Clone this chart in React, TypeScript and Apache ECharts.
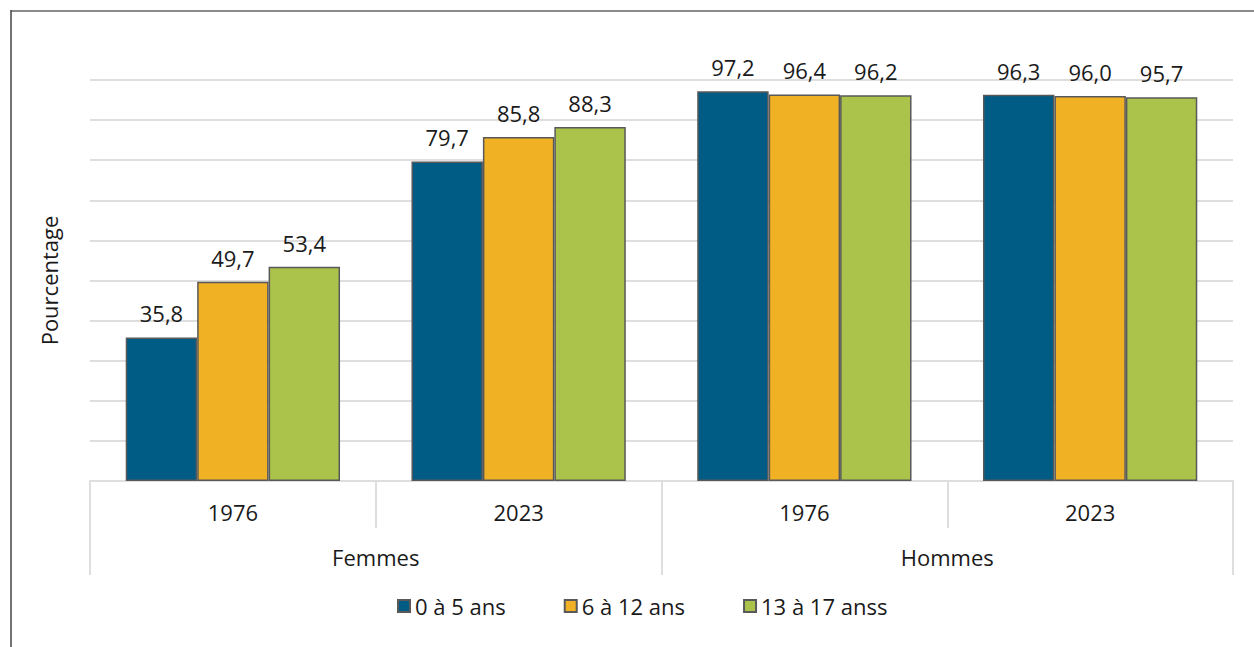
import React, { useEffect, useRef } from "react";
import * as echarts from "echarts";

const yearCategories = ["1976", "2023", "1976", "2023"];
const sexGroups = ["Femmes", "Hommes"];
const seriesNames = ["0 à 5 ans", "6 à 12 ans", "13 à 17 anss"];
const age0to5 = [35.8, 79.7, 97.2, 96.3];
const age6to12 = [49.7, 85.8, 96.4, 96.0];
const age13to17 = [53.4, 88.3, 96.2, 95.7];
const seriesColors = ["#005b85", "#f0b125", "#abc34a"];
const yMin = 0;
const yMax = 100;
const yInterval = 10;

const FONT = "'Open Sans', 'Noto Sans', sans-serif";
const TEXT = "#1a1a1a";
const GRID = "#dedede";

export default function App() {
  const ref = useRef<HTMLDivElement>(null);
  useEffect(() => {
    if (!ref.current) return;
    const chart = echarts.init(ref.current, null, { renderer: "svg" });
    const values = [age0to5, age6to12, age13to17];
    const fmt = (v: number) => v.toFixed(1).replace(".", ",");
    chart.setOption({
      animation: false,
      textStyle: { fontFamily: FONT },
      grid: { left: 90, right: 21, top: 80, bottom: 166, containLabel: false },
      legend: {
        data: seriesNames,
        left: 397,
        top: 595,
        padding: 0,
        itemWidth: 12,
        itemHeight: 12,
        itemGap: 58,
        icon: "rect",
        textStyle: { fontFamily: FONT, fontSize: 22, color: TEXT, padding: [0, 0, 0, 0] },
      },
      xAxis: [
        {
          type: "category",
          data: yearCategories,
          position: "bottom",
          axisLine: { show: true, lineStyle: { color: GRID, width: 2 } },
          axisTick: { show: true, length: 47, interval: 0, lineStyle: { color: GRID, width: 2 } },
          axisLabel: { interval: 0, margin: 20, fontFamily: FONT, fontSize: 22, color: TEXT },
        },
        {
          type: "category",
          data: sexGroups,
          position: "bottom",
          offset: 0,
          axisLine: { show: false },
          axisTick: { show: true, length: 94, interval: 0, lineStyle: { color: GRID, width: 2 } },
          axisLabel: { interval: 0, margin: 65, fontFamily: FONT, fontSize: 22, color: TEXT },
        },
      ],
      yAxis: {
        type: "value",
        min: yMin,
        max: yMax,
        interval: yInterval,
        name: "Pourcentage",
        nameLocation: "middle",
        nameGap: 30,
        nameRotate: 90,
        nameTextStyle: { fontFamily: FONT, fontSize: 22, color: TEXT },
        axisLabel: { show: false },
        axisLine: { show: false },
        axisTick: { show: false },
        splitLine: { show: true, lineStyle: { color: GRID, width: 2 } },
      },
      series: seriesNames.map((name, i) => ({
        name,
        type: "bar",
        xAxisIndex: 0,
        data: values[i],
        barGap: "0%",
        barCategoryGap: "25%",
        itemStyle: { color: seriesColors[i], borderColor: "#595959", borderWidth: 1.5 },
        label: {
          show: true,
          position: "top",
          distance: 13,
          fontFamily: FONT,
          fontSize: 22,
          color: TEXT,
          formatter: (p: any) => fmt(p.value),
        },
      })),
      graphic: [
        {
          type: "line",
          shape: { x1: 11, y1: 11, x2: 1254, y2: 11 },
          style: { stroke: "#8a8a8a", lineWidth: 2 },
          silent: true,
        },
        {
          type: "line",
          shape: { x1: 11, y1: 10, x2: 11, y2: 647 },
          style: { stroke: "#444444", lineWidth: 1.5 },
          silent: true,
        },
      ],
    });
    return () => chart.dispose();
  }, []);
  return (
    <div
      ref={ref}
      style={{ position: "fixed", left: 0, top: 0, width: 1254, height: 647, background: "#fff" }}
    />
  );
}
